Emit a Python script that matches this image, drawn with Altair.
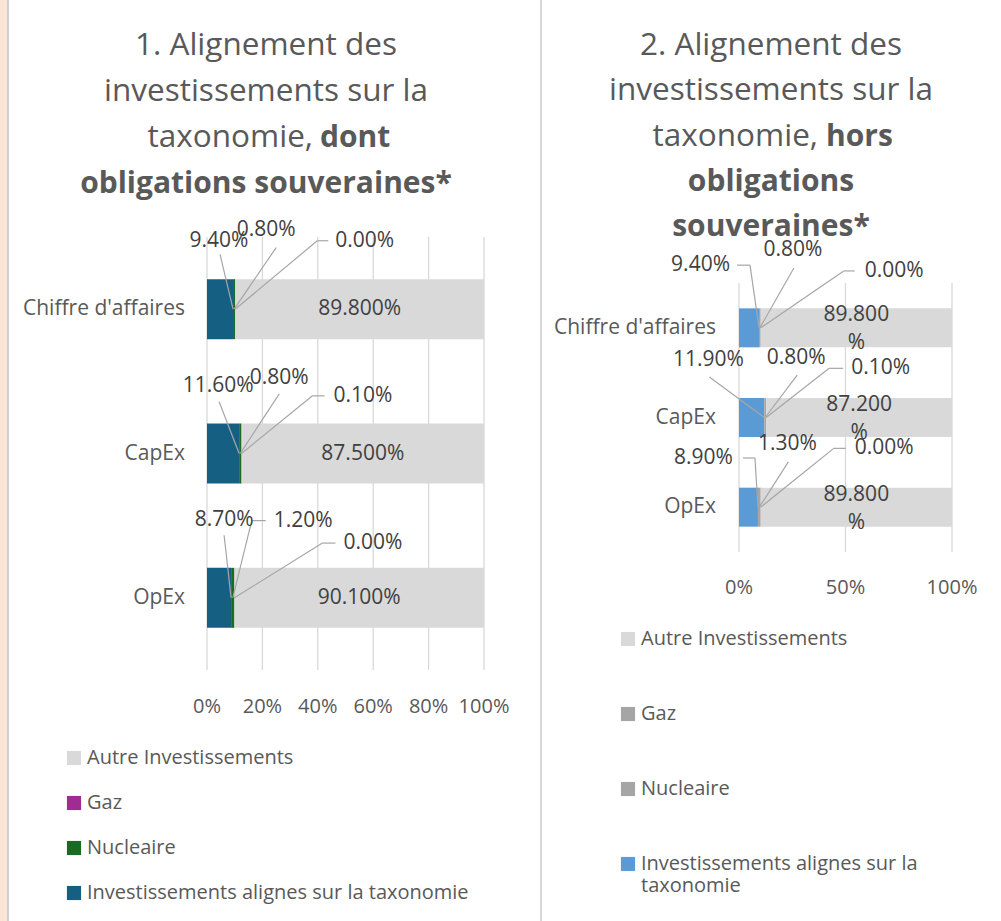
import altair as alt
import pandas as pd

# ---------------- data ----------------
categories = ["Chiffre d'affaires", "CapEx", "OpEx"]
series = ["Investissements alignes sur la taxonomie", "Nucleaire", "Gaz", "Autre Investissements"]
legend_order = ["Autre Investissements", "Gaz", "Nucleaire", "Investissements alignes sur la taxonomie"]

left_invest = [9.4, 11.6, 8.7]
left_nucleaire = [0.8, 0.8, 1.2]
left_gaz = [0.0, 0.1, 0.0]
left_autre = [89.8, 87.5, 90.1]

right_invest = [9.4, 11.9, 8.9]
right_nucleaire = [0.8, 0.8, 1.3]
right_gaz = [0.0, 0.1, 0.0]
right_autre = [89.8, 87.2, 89.8]

left_ticks = [0.0, 0.2, 0.4, 0.6, 0.8, 1.0]
left_tick_labels = ["0%", "20%", "40%", "60%", "80%", "100%"]
right_ticks = [0.0, 0.5, 1.0]
right_tick_labels = ["0%", "50%", "100%"]

left_title = [["1. Alignement des"], ["investissements sur la"], ["taxonomie,", "dont"], ["obligations souveraines*"]]
right_title = [["2. Alignement des"], ["investissements sur la"], ["taxonomie,", "hors"], ["obligations"], ["souveraines*"]]

left_colors = ["#D9D9D9", "#A02B93", "#196B24", "#156082"]
right_colors = ["#D9D9D9", "#A5A5A5", "#A5A5A5", "#5B9BD5"]

# ---------------- layout / style ----------------
FONT = "Open Sans"
TXT = "#595959"
LBL = "#404040"
GRID = "#D9D9D9"
LEAD = "#A6A6A6"
TITLE_FS = 31.5
TITLE_BOLD_FS = 30
LAB_FS = 21
AX_FS = 20
CAT_FS = 21
LEG_FS = 20

# label callout offsets in pixels from the anchor point: (align, text dx, text dy, line dx, line dy, tail dx)
left_callouts = [
    [("center", -14, -70, -13, -56, None), ("center", 32, -81, 42, -63, None), ("left", 100, -70, 82, -70, 93)],
    [("center", -21, -69, -20, -53, None), ("center", 39, -77, 39, -61, None), ("left", 92, -59, 71, -59, 83)],
    [("center", -7, -80, -7, -64, None), ("left", 41, -79, 19, -79, 33), ("left", 109, -56, 88, -56, 101)],
]
right_callouts = [
    [("right", -29, -65, -9, -65, -22), ("center", 33, -81, 34, -62, None), ("left", 104, -59, 83, -59, 94)],
    [("center", -56, -60, -55, -42, None), ("center", 31, -62, 32, -44, None), ("left", 85, -51, 63, -51, 77)],
    [("right", -25, -51, -3, -51, -15), ("center", 28, -65, 29, -47, None), ("left", 94, -61, 73, -61, 85)],
]

LEFT = dict(x_range=[207, 484], y_range=[232, 675], bar=60, tick_y=707, cat_x=185,
            title_cx=266, title_split=(313, 320), title_y=[55, 101, 147, 193],
            legend_x=64, legend_y=748, legend_pad=25, wrap=False)
RIGHT = dict(x_range=[739, 952], y_range=[278, 557], bar=39, tick_y=588, cat_x=716,
             title_cx=771, title_split=(818, 826), title_y=[55, 100, 146, 191, 236],
             legend_x=618, legend_y=629, legend_pad=55, wrap=True)


def panel(inv, nuc, gaz, autre, colors, ticks, tick_labels, callouts, title, cfg):
    x0, x1 = cfg["x_range"]
    y0, y1 = cfg["y_range"]
    ux = 1.0 / (x1 - x0)
    uy = 3.0 / (y1 - y0)
    xs = alt.Scale(domain=[0, 1], range=[x0, x1], nice=False, zero=False)
    ys = alt.Scale(domain=[0, 3], range=[y0, y1], nice=False, zero=False)

    bars, labels, leads, tails = [], [], [], []
    for i, cat in enumerate(categories):
        vals = [inv[i], nuc[i], gaz[i], autre[i]]
        start = 0.0
        for j, (s, v) in enumerate(zip(series, vals)):
            s0, s1 = start / 100, (start + v) / 100
            pos = i + 0.5
            bars.append(dict(cat=cat, series=s, pos=pos, start=s0, end=s1))
            if j < 3:
                ax = s1 if j == 0 else (s0 + s1) / 2
                al, tx, ty, lx, ly, hx = callouts[i][j]
                labels.append(dict(text=f"{v:.2f}%", align=al, x=ax + tx * ux, y=pos + ty * uy))
                leads.append(dict(x=ax, y=pos, x2=ax + lx * ux, y2=pos + ly * uy))
                if hx is not None:
                    tails.append(dict(x=ax + lx * ux, x2=ax + hx * ux, y=pos + ly * uy))
            else:
                t = f"{v:.3f}%"
                yy = pos
                if cfg["wrap"]:
                    t = t[:-1] + "\n%"
                    yy = pos - 13 * uy
                labels.append(dict(text=t, align="center", x=(s0 + s1) / 2, y=yy))
            start += v

    bars_df = pd.DataFrame(bars)
    lab_df = pd.DataFrame(labels)
    lead_df = pd.DataFrame(leads)
    tail_df = pd.DataFrame(tails)
    tick_df = pd.DataFrame(dict(t=ticks, label=tick_labels, ya=[0] * len(ticks), yb=[3] * len(ticks)))
    cat_df = pd.DataFrame(dict(cat=categories, pos=[i + 0.5 for i in range(len(categories))]))

    grid = alt.Chart(tick_df).mark_rule(color=GRID, strokeWidth=1.3).encode(
        x=alt.X("t:Q", scale=xs, axis=None), y=alt.Y("ya:Q", scale=ys, axis=None), y2="yb:Q")
    tick_txt = alt.Chart(tick_df).mark_text(font=FONT, fontSize=AX_FS, color=TXT, baseline="middle").encode(
        x=alt.X("t:Q", scale=xs, axis=None), y=alt.value(cfg["tick_y"]), text="label:N")
    cat_txt = alt.Chart(cat_df).mark_text(font=FONT, fontSize=CAT_FS, color=TXT, align="right", baseline="middle").encode(
        x=alt.value(cfg["cat_x"]), y=alt.Y("pos:Q", scale=ys, axis=None), text="cat:N")

    if cfg["wrap"]:
        lbl_expr = ("datum.label == 'Investissements alignes sur la taxonomie' ? "
                    "['Investissements alignes sur la', 'taxonomie'] : datum.label")
    else:
        lbl_expr = "datum.label"
    bar = alt.Chart(bars_df).mark_bar(size=cfg["bar"], orient="horizontal").encode(
        x=alt.X("start:Q", scale=xs, axis=None), x2="end:Q",
        y=alt.Y("pos:Q", scale=ys, axis=None),
        color=alt.Color("series:N", scale=alt.Scale(domain=legend_order, range=colors),
                        sort=legend_order,
                        legend=alt.Legend(title=None, orient="none", legendX=cfg["legend_x"], legendY=cfg["legend_y"],
                                          direction="vertical", symbolType="square", symbolSize=200,
                                          symbolStrokeWidth=0, labelFont=FONT, labelFontSize=LEG_FS,
                                          labelColor=TXT, rowPadding=cfg["legend_pad"], labelLimit=500,
                                          labelOffset=3, labelExpr=lbl_expr)))

    lead = alt.Chart(lead_df).mark_rule(color=LEAD, strokeWidth=1.2).encode(
        x=alt.X("x:Q", scale=xs, axis=None), x2="x2:Q", y=alt.Y("y:Q", scale=ys, axis=None), y2="y2:Q")
    layers = [grid, tick_txt, cat_txt, bar, lead]
    if len(tail_df):
        tail = alt.Chart(tail_df).mark_rule(color=LEAD, strokeWidth=1.2).encode(
            x=alt.X("x:Q", scale=xs, axis=None), x2="x2:Q", y=alt.Y("y:Q", scale=ys, axis=None))
        layers.append(tail)
    for al in ["left", "center", "right"]:
        layers.append(
            alt.Chart(lab_df).transform_filter(alt.datum.align == al).mark_text(
                font=FONT, fontSize=LAB_FS, color=LBL, align=al, baseline="middle",
                lineBreak="\n", lineHeight=28).encode(
                x=alt.X("x:Q", scale=xs, axis=None), y=alt.Y("y:Q", scale=ys, axis=None), text="text:N"))

    # title
    one = alt.Data(values=[{}])
    sx1, sx2 = cfg["title_split"]
    for line, ty in zip(title, cfg["title_y"]):
        if len(line) == 2:
            layers.append(alt.Chart(one).mark_text(font=FONT, fontSize=TITLE_FS, color=TXT, align="right",
                                                   baseline="alphabetic").encode(
                x=alt.value(sx1), y=alt.value(ty), text=alt.value(line[0])))
            layers.append(alt.Chart(one).mark_text(font=FONT, fontSize=TITLE_BOLD_FS, color=TXT, align="left",
                                                   baseline="alphabetic", fontWeight="bold").encode(
                x=alt.value(sx2), y=alt.value(ty), text=alt.value(line[1])))
        else:
            bold = line[0].startswith("obligations") or line[0].startswith("souveraines")
            layers.append(alt.Chart(one).mark_text(font=FONT, fontSize=TITLE_BOLD_FS if bold else TITLE_FS,
                                                   color=TXT, align="center", baseline="alphabetic",
                                                   fontWeight="bold" if bold else "normal").encode(
                x=alt.value(cfg["title_cx"]), y=alt.value(ty), text=alt.value(line[0])))
    return alt.layer(*layers)


left = panel(left_invest, left_nucleaire, left_gaz, left_autre, left_colors, left_ticks, left_tick_labels,
             left_callouts, left_title, LEFT)
right = panel(right_invest, right_nucleaire, right_gaz, right_autre, right_colors, right_ticks, right_tick_labels,
              right_callouts, right_title, RIGHT)

one = alt.Data(values=[{}])
deco = alt.layer(
    alt.Chart(one).mark_rect(color="#FBE5D6").encode(x=alt.value(0), x2=alt.value(7), y=alt.value(0), y2=alt.value(921)),
    alt.Chart(one).mark_rect(color="#D0D0D0").encode(x=alt.value(7), x2=alt.value(9), y=alt.value(0), y2=alt.value(921)),
    alt.Chart(one).mark_rect(color="#D9D9D9").encode(x=alt.value(540), x2=alt.value(542), y=alt.value(0), y2=alt.value(921)),
)

chart = alt.layer(deco, left, right).resolve_scale(
    x="independent", y="independent", color="independent"
).resolve_legend(color="independent").properties(
    width=1001, height=921, padding=0,
    autosize=alt.AutoSizeParams(type="none"),
    background="white",
).configure_view(stroke=None)

chart.save("out.html", embed_options={"renderer": "svg", "actions": False})
